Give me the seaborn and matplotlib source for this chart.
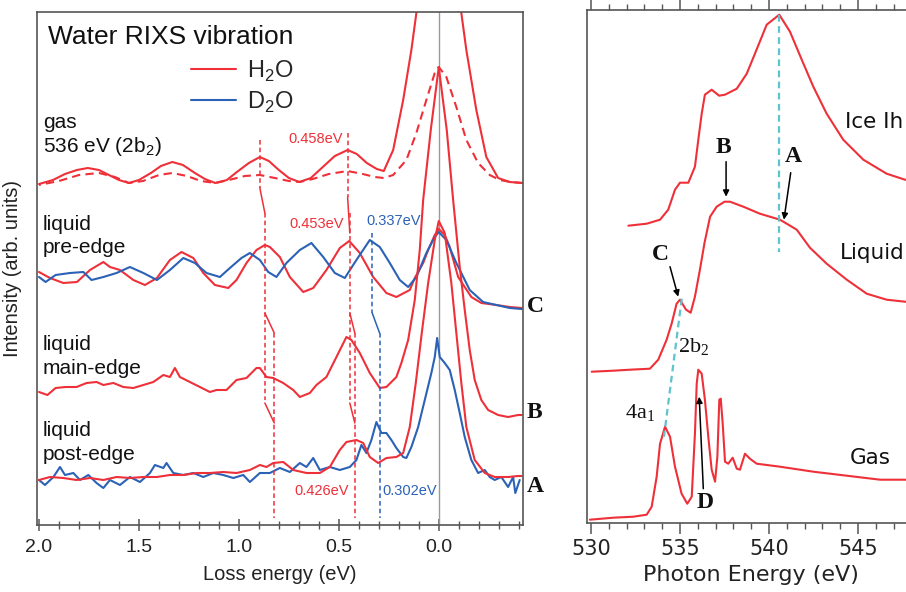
import matplotlib
matplotlib.use("Agg")
import matplotlib.pyplot as plt
import seaborn as sns
from matplotlib.lines import Line2D
from matplotlib.ticker import MultipleLocator, FormatStrFormatter

# ---------------- left panel: RIXS vibrational spectra (loss energy, eV) ----------------
gas_x = [2.00, 1.93, 1.87, 1.81, 1.756, 1.70, 1.65, 1.60, 1.55, 1.50, 1.44, 1.39, 1.333, 1.28, 1.22,
         1.17, 1.118, 1.06, 1.01, 0.95, 0.895, 0.85, 0.80, 0.75, 0.697, 0.64, 0.58, 0.52, 0.456, 0.41,
         0.36, 0.31, 0.275, 0.228, 0.178, 0.137, 0.112, 0.06, 0.0, -0.06, -0.113, -0.138, -0.188,
         -0.238, -0.297, -0.355, -0.42]
gas_y = [3.41, 3.45, 3.51, 3.55, 3.57, 3.55, 3.50, 3.45, 3.42, 3.45, 3.52, 3.59, 3.63, 3.60, 3.52,
         3.46, 3.42, 3.45, 3.53, 3.62, 3.68, 3.64, 3.55, 3.47, 3.43, 3.47, 3.58, 3.69, 3.75, 3.71,
         3.62, 3.56, 3.54, 3.75, 4.25, 4.75, 5.12, 6.40, 7.20, 6.40, 5.12, 4.75, 4.15,
         3.68, 3.47, 3.43, 3.42]

gas_dash_x = [2.00, 1.90, 1.80, 1.70, 1.62, 1.55, 1.48, 1.40, 1.333, 1.26, 1.19, 1.118, 1.05, 0.97,
              0.895, 0.82, 0.75, 0.697, 0.63, 0.55, 0.456, 0.38, 0.32, 0.275, 0.228, 0.162, 0.112,
              0.062, 0.02, 0.0, -0.038, -0.088, -0.138, -0.197, -0.255, -0.305, -0.36, -0.42]
gas_dash_y = [3.40, 3.44, 3.50, 3.52, 3.48, 3.42, 3.44, 3.50, 3.52, 3.49, 3.44, 3.42, 3.45, 3.49,
              3.50, 3.47, 3.44, 3.43, 3.46, 3.51, 3.54, 3.51, 3.48, 3.47, 3.50, 3.65, 3.92,
              4.25, 4.52, 4.58, 4.48, 4.18, 3.85, 3.62, 3.50, 3.45, 3.43, 3.42]

pre_h2o_x = [2.0, 1.945, 1.878, 1.81, 1.745, 1.678, 1.645, 1.595, 1.528, 1.47, 1.41, 1.345, 1.287,
             1.228, 1.178, 1.12, 1.053, 1.012, 0.962, 0.912, 0.87, 0.845, 0.795, 0.745, 0.678, 0.628,
             0.562, 0.495, 0.448, 0.395, 0.328, 0.262, 0.212, 0.145, 0.12, 0.078, 0.053, 0.02, 0.0,
             -0.03, -0.055, -0.097, -0.163, -0.213, -0.288, -0.355, -0.415]
pre_h2o_y = [2.53, 2.47, 2.42, 2.43, 2.55, 2.63, 2.58, 2.55, 2.45, 2.40, 2.47, 2.65, 2.73,
             2.67, 2.52, 2.40, 2.37, 2.45, 2.62, 2.75, 2.80, 2.78, 2.68, 2.48, 2.33, 2.37,
             2.55, 2.77, 2.84, 2.72, 2.48, 2.32, 2.28, 2.35, 2.47, 2.62, 2.75, 2.90, 2.96,
             2.90, 2.78, 2.48, 2.28, 2.22, 2.20, 2.18, 2.17]

pre_d2o_x = [2.0, 1.967, 1.917, 1.845, 1.778, 1.737, 1.678, 1.612, 1.545, 1.478, 1.41, 1.345, 1.278,
             1.22, 1.162, 1.095, 1.045, 0.987, 0.945, 0.895, 0.853, 0.812, 0.762, 0.695, 0.637, 0.578,
             0.52, 0.47, 0.412, 0.345, 0.295, 0.245, 0.195, 0.153, 0.112, 0.062, 0.02, 0.0, -0.038,
             -0.088, -0.155, -0.222, -0.288, -0.355, -0.415]
pre_d2o_y = [2.48, 2.43, 2.50, 2.52, 2.53, 2.45, 2.48, 2.52, 2.58, 2.52, 2.45, 2.55, 2.67,
             2.62, 2.52, 2.48, 2.57, 2.67, 2.72, 2.65, 2.53, 2.48, 2.62, 2.75, 2.82, 2.68,
             2.52, 2.47, 2.65, 2.85, 2.78, 2.62, 2.45, 2.38, 2.48, 2.72, 2.88, 2.93, 2.85,
             2.62, 2.35, 2.23, 2.20, 2.17, 2.16]

main_h2o_x = [2.0, 1.958, 1.917, 1.867, 1.812, 1.762, 1.712, 1.678, 1.628, 1.578, 1.528, 1.478, 1.428,
              1.378, 1.345, 1.32, 1.295, 1.245, 1.195, 1.145, 1.112, 1.062, 1.012, 0.962, 0.912, 0.895,
              0.862, 0.828, 0.778, 0.728, 0.695, 0.645, 0.612, 0.562, 0.512, 0.462, 0.437, 0.395, 0.345,
              0.295, 0.262, 0.212, 0.187, 0.153, 0.12, 0.095, 0.078, 0.04, 0.0, -0.04, -0.072, -0.105,
              -0.13, -0.155, -0.18, -0.213, -0.247, -0.297, -0.347, -0.397, -0.415]
main_h2o_y = [1.33, 1.30, 1.37, 1.38, 1.38, 1.42, 1.43, 1.40, 1.42, 1.38, 1.37, 1.40, 1.43,
              1.50, 1.48, 1.57, 1.48, 1.43, 1.38, 1.33, 1.35, 1.35, 1.45, 1.47, 1.57, 1.57,
              1.48, 1.47, 1.42, 1.35, 1.28, 1.32, 1.40, 1.48, 1.68, 1.88, 1.85, 1.72, 1.52,
              1.37, 1.38, 1.48, 1.62, 1.85, 2.25, 2.75, 3.25, 3.95, 4.58, 3.95, 3.25, 2.58,
              2.15, 1.75, 1.45, 1.25, 1.15, 1.10, 1.08, 1.10, 1.10]

post_h2o_x = [2.0, 1.945, 1.878, 1.812, 1.745, 1.678, 1.612, 1.545, 1.478, 1.41, 1.345, 1.278, 1.212,
              1.145, 1.078, 1.012, 0.945, 0.895, 0.862, 0.828, 0.778, 0.728, 0.662, 0.595, 0.545, 0.495,
              0.462, 0.412, 0.378, 0.345, 0.303, 0.262, 0.212, 0.178, 0.145, 0.115, 0.085, 0.053, 0.02,
              0.0, -0.03, -0.063, -0.088, -0.113, -0.138, -0.18, -0.23, -0.28, -0.347, -0.397, -0.415]
post_h2o_y = [0.45, 0.48, 0.47, 0.45, 0.47, 0.45, 0.48, 0.47, 0.48, 0.48, 0.50, 0.50, 0.52,
              0.52, 0.53, 0.52, 0.55, 0.60, 0.58, 0.62, 0.63, 0.55, 0.52, 0.52, 0.58, 0.75,
              0.83, 0.85, 0.82, 0.68, 0.62, 0.67, 0.68, 0.72, 0.98, 1.42, 1.92, 2.42, 2.85,
              3.04, 2.92, 2.42, 1.92, 1.42, 0.98, 0.65, 0.52, 0.48, 0.48, 0.49, 0.49]

post_d2o_x = [2.0, 1.97, 1.928, 1.895, 1.87, 1.828, 1.795, 1.753, 1.712, 1.678, 1.645, 1.595, 1.545,
              1.495, 1.445, 1.42, 1.378, 1.362, 1.328, 1.278, 1.228, 1.178, 1.128, 1.078, 1.028, 0.978,
              0.945, 0.895, 0.845, 0.795, 0.745, 0.695, 0.662, 0.628, 0.595, 0.545, 0.495, 0.445, 0.412,
              0.387, 0.362, 0.337, 0.312, 0.287, 0.262, 0.237, 0.212, 0.178, 0.162, 0.137, 0.103, 0.07,
              0.037, 0.02, 0.008, -0.005, -0.03, -0.055, -0.08, -0.105, -0.13, -0.163, -0.197, -0.23,
              -0.255, -0.28, -0.313, -0.347, -0.372, -0.383, -0.405]
post_d2o_y = [0.45, 0.40, 0.48, 0.58, 0.50, 0.52, 0.45, 0.50, 0.42, 0.37, 0.45, 0.40, 0.48,
              0.43, 0.52, 0.60, 0.57, 0.62, 0.52, 0.50, 0.52, 0.48, 0.52, 0.50, 0.47, 0.50,
              0.43, 0.52, 0.52, 0.57, 0.53, 0.62, 0.58, 0.67, 0.55, 0.58, 0.55, 0.58, 0.65,
              0.80, 0.72, 0.85, 1.03, 0.92, 0.92, 0.85, 0.77, 0.68, 0.67, 0.78, 0.98, 1.25,
              1.52, 1.68, 1.87, 1.68, 1.62, 1.55, 1.35, 1.12, 0.88, 0.65, 0.52, 0.55,
              0.48, 0.45, 0.48, 0.38, 0.48, 0.32, 0.45]

# vibrational peak positions used for the guide lines (eV)
gas_peak_pos = [0.895, 0.456]
pre_peak_h2o = [0.870, 0.445]
post_peak_h2o = [0.823, 0.420]
pre_peak_d2o = 0.333
post_peak_d2o = 0.296
spacing_labels = ["0.458eV", "0.453eV", "0.337eV", "0.426eV", "0.302eV"]

# ---------------- right panel: XAS (photon energy, eV) ----------------
ice_E = [532.10, 533.13, 533.88, 534.34, 534.72, 535.00, 535.47, 535.84, 536.03, 536.22, 536.40,
         536.78, 537.20, 537.53, 538.19, 538.75, 539.21, 539.87, 540.58, 541.18, 541.84, 542.49,
         543.24, 544.17, 545.30, 546.61, 547.64, 548.80]
ice_I = [2.97, 2.99, 3.03, 3.13, 3.33, 3.40, 3.40, 3.56, 3.83, 4.09, 4.28,
         4.33, 4.27, 4.28, 4.34, 4.49, 4.69, 4.98, 5.08, 4.91, 4.63, 4.36,
         4.09, 3.83, 3.63, 3.49, 3.43, 3.40]

liq_E = [530.04, 531.25, 532.19, 533.31, 533.78, 534.25, 534.53, 534.81, 535.00, 535.34, 535.60,
         535.84, 536.12, 536.38, 536.69, 537.06, 537.50, 537.81, 538.56, 539.49, 540.62, 541.56,
         542.30, 543.24, 544.37, 545.49, 546.61, 547.64, 548.80]
liq_I = [1.51, 1.52, 1.53, 1.54, 1.63, 1.83, 1.99, 2.19, 2.23, 2.13, 2.10,
         2.26, 2.53, 2.80, 3.06, 3.16, 3.21, 3.21, 3.16, 3.09, 3.03, 2.93,
         2.75, 2.59, 2.43, 2.29, 2.23, 2.21, 2.20]

gasxas_E = [529.94, 531.25, 532.38, 533.13, 533.41, 533.69, 533.88, 534.16, 534.44, 534.72, 535.09,
            535.41, 535.66, 535.84, 535.94, 536.03, 536.22, 536.40, 536.59, 536.78, 536.97, 537.10,
            537.21, 537.29, 537.40, 537.53, 537.71, 537.96, 538.19, 538.37, 538.65, 538.93, 539.31,
            540.62, 542.49, 544.37, 546.24, 547.64, 548.80]
gasxas_I = [0.03, 0.05, 0.06, 0.08, 0.16, 0.46, 0.79, 0.96, 0.86, 0.56, 0.29,
            0.19, 0.26, 0.89, 1.39, 1.53, 1.49, 1.23, 0.86, 0.53, 0.41, 0.66,
            1.23, 1.24, 0.99, 0.61, 0.59, 0.65, 0.54, 0.53, 0.69, 0.64, 0.59,
            0.56, 0.51, 0.47, 0.43, 0.43, 0.42]

RED = '#ee3039'
BLUE = '#2b62b6'
CYAN = '#5cc4cc'
SPINE = '#555555'

sns.set_style("white")
plt.rcParams['font.family'] = ['Liberation Sans', 'DejaVu Sans']
SERIF = ['Liberation Serif', 'DejaVu Serif']
WIDE = ['DejaVu Sans']

fig = plt.figure(figsize=(9.06, 5.92), dpi=100)
ax1 = fig.add_axes([36.8 / 906, 67 / 592, 485.9 / 906, 513 / 592])
ax2 = fig.add_axes([586.7 / 906, 69.3 / 592, 342.5 / 906, 512.7 / 592])

# ---- left panel curves
ax1.axvline(0, color='#9a9a9a', lw=1.0, zorder=1)
lw = 1.5
sns.lineplot(x=gas_x, y=gas_y, ax=ax1, color=RED, lw=lw)
sns.lineplot(x=gas_dash_x, y=gas_dash_y, ax=ax1, color=RED, lw=lw, linestyle=(0, (4, 2.5)))
sns.lineplot(x=pre_h2o_x, y=pre_h2o_y, ax=ax1, color=RED, lw=lw)
sns.lineplot(x=pre_d2o_x, y=pre_d2o_y, ax=ax1, color=BLUE, lw=lw)
sns.lineplot(x=main_h2o_x, y=main_h2o_y, ax=ax1, color=RED, lw=lw)
sns.lineplot(x=post_d2o_x, y=post_d2o_y, ax=ax1, color=BLUE, lw=lw)
sns.lineplot(x=post_h2o_x, y=post_h2o_y, ax=ax1, color=RED, lw=lw)

# guide lines following the vibrational peaks
dash = (0, (3, 2))
glw = 1.1
for g, p, q, top in zip(gas_peak_pos, pre_peak_h2o, post_peak_h2o, [(3.85, 3.37, 3.12), (3.92, 3.28, 2.92)]):
    ax1.plot([g, g], [top[0], top[1]], color=RED, lw=glw, ls=dash)
    ax1.plot([g, p], [top[1], top[2]], color=RED, lw=glw)
    ax1.plot([p, p], [3.12, 1.25], color=RED, lw=glw, ls=dash)
    ax1.plot([p, q], [2.12, 1.92], color=RED, lw=glw)
    ax1.plot([p, q], [1.22, 1.02], color=RED, lw=glw)
    ax1.plot([q, q], [1.92, 0.07], color=RED, lw=glw, ls=dash)
ax1.plot([pre_peak_d2o, pre_peak_d2o], [2.92, 2.12], color=BLUE, lw=glw, ls=dash)
ax1.plot([pre_peak_d2o, post_peak_d2o], [2.12, 1.92], color=BLUE, lw=glw)
ax1.plot([post_peak_d2o, post_peak_d2o], [1.92, 0.07], color=BLUE, lw=glw, ls=dash)

ax1.set_xlim(2.011, -0.42)
ax1.set_ylim(0, 5.13)
ax1.set_yticks([])
ax1.xaxis.set_major_locator(MultipleLocator(0.5))
ax1.xaxis.set_minor_locator(MultipleLocator(0.1))
ax1.xaxis.set_major_formatter(FormatStrFormatter('%.1f'))
ax1.tick_params(axis='x', which='major', bottom=True, direction='inout', length=9, width=1.1,
                color=SPINE, labelsize=14, pad=5.5, labelcolor='#222')
ax1.tick_params(axis='x', which='minor', bottom=True, direction='inout', length=6, width=1.0, color=SPINE)
for s in ax1.spines.values():
    s.set_color(SPINE)
    s.set_linewidth(1.2)
ax1.set_xlabel('Loss energy (eV)', fontsize=14.5, color='#222')
ax1.xaxis.set_label_coords(0.5, -0.078)
ax1.set_ylabel('Intensity (arb. units)', fontsize=14.5, color='#222')
ax1.yaxis.set_label_coords(-0.031, 0.5)

ax1.text(1.955, 4.88, 'Water RIXS vibration', fontsize=19, va='center', ha='left', color='#111')
ax1.legend(handles=[Line2D([], [], color=RED, lw=1.5), Line2D([], [], color=BLUE, lw=1.5)],
           labels=[r'H$_\mathregular{2}$O', r'D$_\mathregular{2}$O'], loc='upper left',
           bbox_to_anchor=(0.298, 0.928), frameon=False, fontsize=17, handlelength=1.9,
           handletextpad=0.47, labelspacing=0.25, borderpad=0.4, borderaxespad=0)

lab = dict(fontsize=15, va='center', ha='left', color='#111')
ax1.text(1.98, 4.02, 'gas', **lab)
ax1.text(1.98, 3.78, r'536 eV (2b$_\mathregular{2}$)', **lab)
ax1.text(1.98, 3.00, 'liquid', **lab)
ax1.text(1.98, 2.77, 'pre-edge', **lab)
ax1.text(1.98, 1.80, 'liquid', **lab)
ax1.text(1.98, 1.56, 'main-edge', **lab)
ax1.text(1.98, 0.95, 'liquid', **lab)
ax1.text(1.98, 0.70, 'post-edge', **lab)

val = dict(fontsize=10.5, va='center')
ax1.text(0.48, 3.86, spacing_labels[0], color=RED, ha='right', **val)
ax1.text(0.475, 3.01, spacing_labels[1], color=RED, ha='right', **val)
ax1.text(0.36, 3.04, spacing_labels[2], color=BLUE, ha='left', **val)
ax1.text(0.45, 0.34, spacing_labels[3], color=RED, ha='right', **val)
ax1.text(0.28, 0.34, spacing_labels[4], color=BLUE, ha='left', **val)

abc = dict(fontsize=17, fontweight='bold', family=SERIF, va='center', ha='left', clip_on=False, color='#111')
ax1.text(-0.44, 2.18, 'C', **abc)
ax1.text(-0.44, 1.12, 'B', **abc)
ax1.text(-0.44, 0.38, 'A', **abc)

# ---- right panel
sns.lineplot(x=ice_E, y=ice_I, ax=ax2, color=RED, lw=lw)
sns.lineplot(x=liq_E, y=liq_I, ax=ax2, color=RED, lw=lw)
sns.lineplot(x=gasxas_E, y=gasxas_I, ax=ax2, color=RED, lw=lw)

ax2.plot([540.58, 540.58], [5.08, 2.71], color=CYAN, lw=1.6, ls=(0, (3, 2)))
ax2.plot([535.1, 534.1], [2.24, 0.86], color=CYAN, lw=1.6, ls=(0, (3, 2)))

ax2.set_xlim(529.76, 549)
ax2.set_ylim(0, 5.127)
ax2.set_yticks([])
ax2.xaxis.set_major_locator(MultipleLocator(5))
ax2.xaxis.set_minor_locator(MultipleLocator(1))
ax2.tick_params(axis='x', which='major', bottom=True, top=True, direction='out', length=8, width=1.1,
                color=SPINE, labelsize=15, pad=4, labelcolor='#222')
ax2.tick_params(axis='x', which='minor', bottom=True, top=True, direction='out', length=4, width=1.0, color=SPINE)
for t in ax2.get_xticklabels():
    t.set_family(WIDE)
for s in ax2.spines.values():
    s.set_color(SPINE)
    s.set_linewidth(1.2)
ax2.set_xlabel('Photon Energy (eV)', fontsize=16, color='#222', family=WIDE)
ax2.xaxis.set_label_coords(0.48, -0.082)

side = dict(fontsize=15.5, va='center', ha='left', color='#111', family=WIDE)
ax2.text(544.27, 4.01, 'Ice Ih', **side)
ax2.text(543.99, 2.70, 'Liquid', **side)
ax2.text(544.55, 0.65, 'Gas', **side)

big = dict(fontsize=17, fontweight='bold', family=SERIF, va='center', ha='center', color='#111')
ax2.text(537.42, 3.75, 'B', **big)
ax2.text(541.35, 3.66, 'A', **big)
ax2.text(533.88, 2.68, 'C', **big)
ax2.text(536.40, 0.20, 'D', **big)
orb = dict(fontsize=16, family=SERIF, va='center', ha='left', color='#111')
ax2.text(534.89, 1.75, r'2b$_\mathregular{2}$', **orb)
ax2.text(531.91, 1.10, r'4a$_\mathregular{1}$', **orb)

arr = dict(arrowstyle='-|>', color='black', lw=1.1, mutation_scale=9, shrinkA=0, shrinkB=0)
ax2.annotate('', xy=(537.59, 3.26), xytext=(537.59, 3.61), arrowprops=arr)
ax2.annotate('', xy=(540.84, 3.03), xytext=(541.22, 3.50), arrowprops=arr)
ax2.annotate('', xy=(534.90, 2.26), xytext=(534.44, 2.56), arrowprops=arr)
ax2.annotate('', xy=(536.08, 1.26), xytext=(536.31, 0.34), arrowprops=arr)

fig.savefig('out.png', dpi=100)
